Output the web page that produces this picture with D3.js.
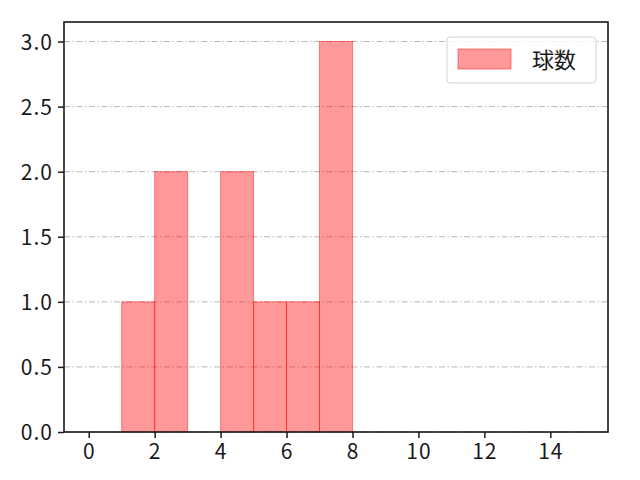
<!DOCTYPE html>
<html lang="ja">
<head>
<meta charset="UTF-8">
<title>球数</title>
<style>
    body { margin: 0; background: #fff; }
    text { font-family: "Noto Sans CJK JP", "DejaVu Sans", sans-serif; }
</style>
</head>
<body>
<div id="chart"></div>
<script src="https://d3js.org/d3.v7.min.js"></script>
<script>
    // histogram bins (left edge) and counts
    const binStarts = [0, 1, 2, 3, 4, 5, 6, 7];
    const binCounts = [0, 1, 2, 0, 2, 1, 1, 3];
    const binWidth = 1;
    const xTicks = [0, 2, 4, 6, 8, 10, 12, 14];
    const yTicks = [0, 0.5, 1.0, 1.5, 2.0, 2.5, 3.0];
    const seriesName = "球数";

    const width = 640, height = 480;
    const margin = {top: 22, right: 32, bottom: 48, left: 64};
    const w = width - margin.left - margin.right,
        h = height - margin.top - margin.bottom;

    const svg = d3.select("#chart").append("svg")
        .attr("width", width)
        .attr("height", height);

    const g = svg.append("g")
        .attr("transform", `translate(${margin.left},${margin.top})`);

    const x = d3.scaleLinear().domain([-0.75, 15.75]).range([0, w]);
    const y = d3.scaleLinear().domain([0, 3.15]).range([h, 0]);

    // grid lines (dash-dot)
    g.selectAll(".grid")
        .data(yTicks)
        .join("line")
        .attr("class", "grid")
        .attr("x1", 0).attr("x2", w)
        .attr("y1", d => y(d)).attr("y2", d => y(d))
        .attr("stroke", "#b0b0b0")
        .attr("stroke-width", 0.9)
        .attr("stroke-dasharray", "6,2.5,1.5,2.5");

    // bars
    const data = binStarts.map((s, i) => ({s: s, c: binCounts[i]})).filter(d => d.c > 0);
    g.selectAll(".bar")
        .data(data)
        .join("rect")
        .attr("class", "bar")
        .attr("x", d => x(d.s))
        .attr("y", d => y(d.c))
        .attr("width", d => x(d.s + binWidth) - x(d.s))
        .attr("height", d => y(0) - y(d.c))
        .attr("fill", "rgba(255,0,0,0.4)")
        .attr("stroke", "rgba(255,0,0,0.45)")
        .attr("stroke-width", 1);

    // axes
    const xAxis = g.append("g")
        .attr("transform", `translate(0,${h})`)
        .call(d3.axisBottom(x).tickValues(xTicks).tickSize(6).tickPadding(5).tickFormat(d3.format("d")));
    const yAxis = g.append("g")
        .call(d3.axisLeft(y).tickValues(yTicks).tickSize(6).tickPadding(5).tickFormat(d3.format(".1f")));

    [xAxis, yAxis].forEach(a => {
        a.select(".domain").remove();
        a.selectAll(".tick line").attr("stroke", "#1a1a1a").attr("stroke-width", 1.5);
        a.selectAll(".tick text").attr("fill", "#1a1a1a").style("font-size", "21px")
            .style("letter-spacing", "1px")
            .style("font-family", '"Noto Sans CJK JP", sans-serif');
    });
    xAxis.selectAll(".tick text").attr("dy", "0.75em");
    yAxis.selectAll(".tick text").attr("dy", "0.36em");

    // frame
    g.append("rect")
        .attr("x", 0).attr("y", 0)
        .attr("width", w).attr("height", h)
        .attr("fill", "none")
        .attr("stroke", "#1a1a1a")
        .attr("stroke-width", 1.6);

    // legend
    const lg = g.append("g").attr("transform", `translate(${w - 161},${15})`);
    lg.append("rect")
        .attr("x", 0).attr("y", 0)
        .attr("width", 149).attr("height", 46)
        .attr("rx", 3)
        .attr("fill", "#fff").attr("fill-opacity", 0.8)
        .attr("stroke", "#d0d0d0");
    lg.append("rect")
        .attr("x", 11).attr("y", 12)
        .attr("width", 53).attr("height", 20)
        .attr("fill", "rgba(255,0,0,0.4)")
        .attr("stroke", "rgba(255,0,0,0.45)");
    lg.append("text")
        .attr("x", 85).attr("y", 31)
        .attr("fill", "#1a1a1a")
        .style("font-size", "22px")
        .text(seriesName);
</script>
</body>
</html>
